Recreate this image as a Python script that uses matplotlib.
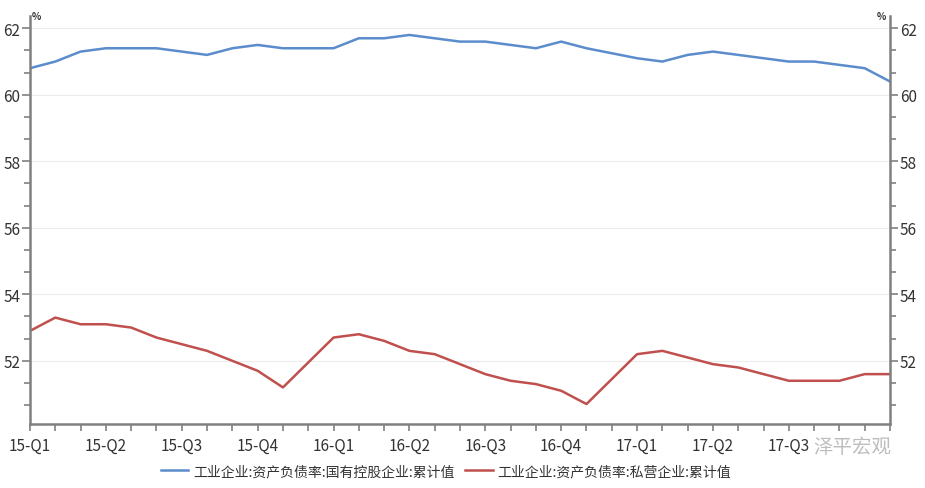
import numpy as np
import matplotlib
matplotlib.use("Agg")
import matplotlib.pyplot as plt
from matplotlib.ticker import MultipleLocator

plt.rcParams['font.family'] = ['Noto Sans CJK SC', 'DejaVu Sans']

# month index 0 = 2015-02 ... 34 = 2017-12 ; January values missing (idx 11, 23)
month_idx = [0, 1, 2, 3, 4, 5, 6, 7, 8, 9, 10,
             12, 13, 14, 15, 16, 17, 18, 19, 20, 21, 22,
             24, 25, 26, 27, 28, 29, 30, 31, 32, 33, 34]
soe = [60.8, 61.0, 61.3, 61.4, 61.4, 61.4, 61.3, 61.2, 61.4, 61.5, 61.4,
       61.4, 61.7, 61.7, 61.8, 61.7, 61.6, 61.6, 61.5, 61.4, 61.6, 61.4,
       61.1, 61.0, 61.2, 61.3, 61.2, 61.1, 61.0, 61.0, 60.9, 60.8, 60.4]
private = [52.9, 53.3, 53.1, 53.1, 53.0, 52.7, 52.5, 52.3, 52.0, 51.7, 51.2,
           52.7, 52.8, 52.6, 52.3, 52.2, 51.9, 51.6, 51.4, 51.3, 51.1, 50.7,
           52.2, 52.3, 52.1, 51.9, 51.8, 51.6, 51.4, 51.4, 51.4, 51.6, 51.6]
xtick_pos = [0, 3, 6, 9, 12, 15, 18, 21, 24, 27, 30]
xtick_labels = ["15-Q1", "15-Q2", "15-Q3", "15-Q4", "16-Q1", "16-Q2",
                "16-Q3", "16-Q4", "17-Q1", "17-Q2", "17-Q3"]
legend_labels = ["工业企业:资产负债率:国有控股企业:累计值",
                 "工业企业:资产负债率:私营企业:累计值"]

fig = plt.figure(figsize=(9.25, 4.89), dpi=100)
ax = fig.add_axes([30/925, 1 - 425/489, 860/925, (425-17)/489])

blue = "#5B8CCB"
red = "#C0504D"
l1, = ax.plot(month_idx, soe, color=blue, lw=1.8)
l2, = ax.plot(month_idx, private, color=red, lw=1.8)

ax.set_xlim(0, 34)
ax.set_ylim(50.1, 62.37)

spine_c = "#808080"
ax.spines["top"].set_visible(False)
for s in ["left", "right", "bottom"]:
    ax.spines[s].set_color(spine_c)
    ax.spines[s].set_linewidth(1.8)

ax.set_yticks([52, 54, 56, 58, 60, 62])
ax.yaxis.set_minor_locator(MultipleLocator(2/3))
ax.grid(axis='y', which='major', color='#ececec', lw=0.8)
ax.set_axisbelow(True)

ax.set_xticks(xtick_pos)
ax.set_xticklabels(xtick_labels)
ax.xaxis.set_minor_locator(MultipleLocator(1))

ax.tick_params(axis='y', which='both', left=True, right=True,
               labelleft=True, labelright=True, direction='out',
               color=spine_c, width=1.2, labelsize=11, labelcolor='#333333', pad=1)
ax.tick_params(axis='y', which='major', length=6)
ax.tick_params(axis='y', which='minor', length=4)
ax.tick_params(axis='x', which='both', direction='out', color=spine_c,
               width=1.2, length=5, labelsize=11, labelcolor='#333333', pad=4)

fig.text(32/925, 1 - 17/489, "%", fontsize=7, fontweight='bold', color='#333333',
         ha='left', va='center')
fig.text(886/925, 1 - 17/489, "%", fontsize=7, fontweight='bold', color='#333333',
         ha='right', va='center')

fig.legend([l1, l2], legend_labels, loc='center', bbox_to_anchor=(446/925, 1 - 472/489),
           ncol=2, frameon=False, fontsize=10, handlelength=2.0,
           columnspacing=0.75, handletextpad=0.35, labelcolor='#333333')

fig.text(813/925, 1 - 448/489, "泽平宏观", fontsize=14, color='#888888', alpha=0.55,
         ha='left', va='center')

fig.savefig("out.png", dpi=100)
